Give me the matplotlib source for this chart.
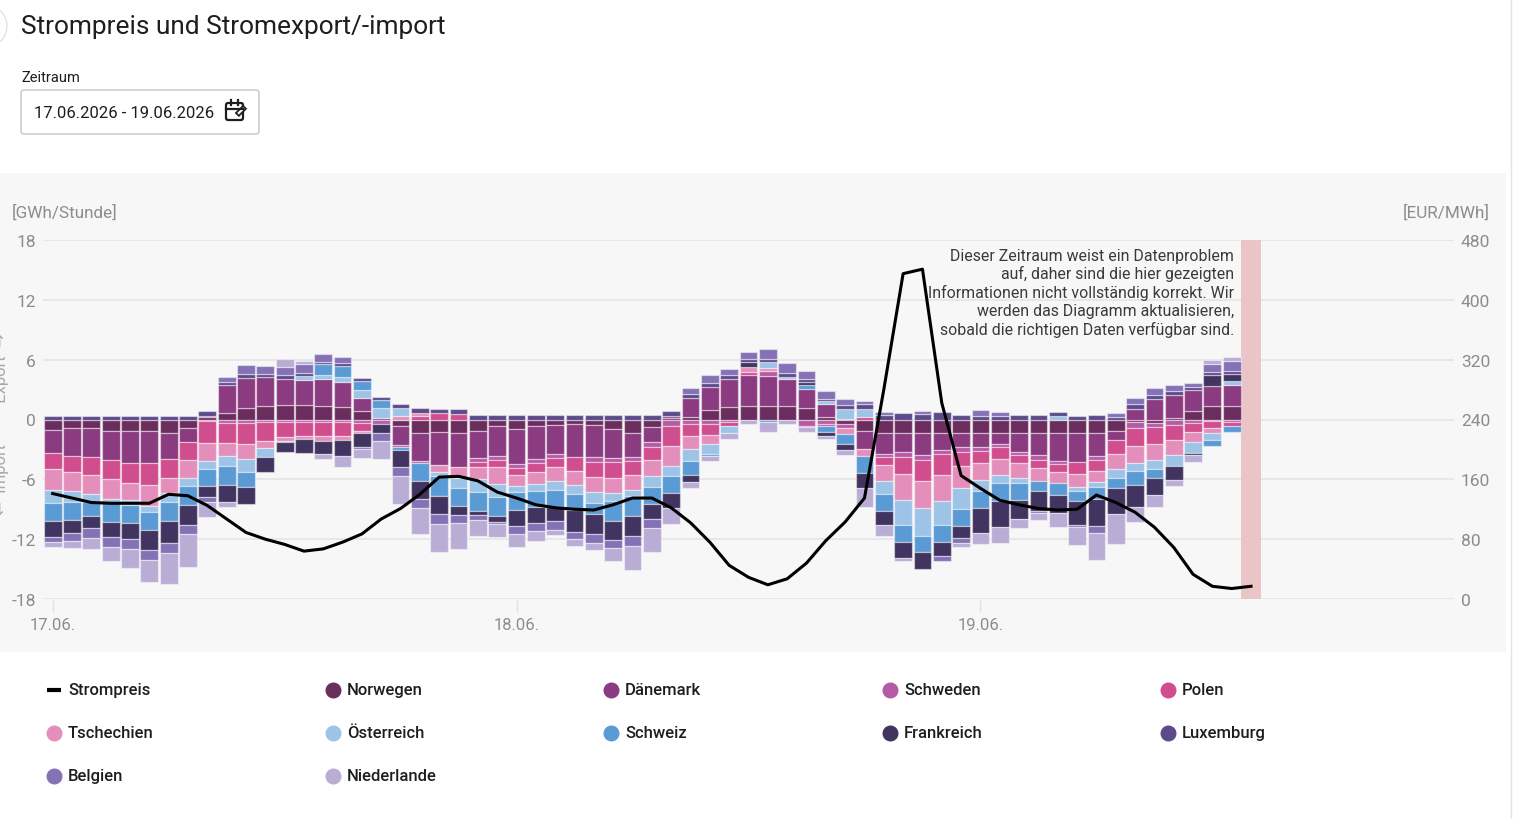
import numpy as np
import matplotlib
matplotlib.use("Agg")
import matplotlib.pyplot as plt
from matplotlib.patches import FancyBboxPatch, Rectangle, Circle

plt.rcParams['font.family'] = ['Roboto', 'DejaVu Sans']
plt.rcParams['axes.unicode_minus'] = False

# hourly values 17.06. 00:00 ... 19.06. 13:00, GWh per hour (+ export / - import)
norwegen = [-1.07, -0.87, -0.87, -1.2, -1.2, -1.2, -1.4, -0.87, 0.3, 0.7, 1.2, 1.37, 1.44, 1.44, 1.37, 1.27,
            0.87, 0, -0.7, -1.4, -1.3, -1.4, -1.14, -0.7, -0.97, -0.63, -0.57, -0.47, -0.57, -0.97, -1.4, -0.8,
            0.2, 0.3, 0.94, 1.3, 1.37, 1.37, 1.37, 1.2, 0.3, -0.47, -1.14, -1.4, -1.4, -1.4, -1.4, -1.4,
            -1.4, -1.4, -1.4, -1.4, -1.4, -1.4, -1.4, -1.2, -0.3, -0.37, 0.2, 0.87, 1.37, 1.37]
daenemark = [-2.3, -2.84, -2.94, -2.9, -3.2, -3.2, -2.57, -1.34, 0.1, 2.74, 3.0, 2.9, 2.67, 2.54, 2.67, 2.5,
             1.24, 0.12, -1.87, -2.8, -3.27, -3.34, -2.77, -2.94, -3.5, -3.34, -2.9, -3.34, -3.24, -2.9, -2.4, -1.44,
             0.2, 1.9, 2.27, 2.74, 3.1, 3.0, 2.67, 1.9, 1.24, 0, -1.84, -2.07, -1.9, -2.17, -1.67, -1.4,
             -1.34, -1.07, -1.84, -2.17, -2.8, -2.9, -2.24, -0.87, 1.1, 2.07, 2.27, 2.1, 2.0, 2.07]
schweden = [0, 0, 0, 0, 0, 0, 0, 0, -0.2, -0.37, -0.37, -0.23, -0.3, -0.3, -0.3, -0.3,
            -0.4, -0.5, -0.23, -0.15, 0, 0, -0.4, -0.43, -0.43, -0.43, -0.43, 0, -0.43, -0.43, -0.33, -0.47,
            -0.7, -0.47, -0.47, -0.23, 0, 0.5, 0, -0.7, -0.47, -0.43, 0, -0.33, -0.43, -0.47, -0.4, -0.5,
            -0.4, -0.33, -0.33, -0.47, -0.27, 0, -0.43, 0, -0.6, -0.43, -0.53, -0.4, -0.13, -0.3]
polen = [-1.6, -1.6, -1.77, -1.87, -1.97, -2.17, -1.94, -1.87, -2.2, -1.94, -2.1, -1.9, -1.5, -1.4, -1.34, -1.4,
         -0.74, 0, 0, 0.37, 0.63, 0.53, -0.43, -0.67, -0.63, -0.84, -0.9, -1.34, -1.57, -1.6, -1.44, -1.34,
         -2.0, -1.17, -1.1, -0.47, 0.33, 0, 0, -0.1, -0.23, 0.1, 0.3, -0.77, -1.74, -2.17, -2.1, -1.34,
         -1.24, -1.17, -0.8, -0.84, -0.84, -1.17, -1.07, -1.4, -1.77, -1.67, -1.54, -0.9, -0.77, -0.4]
tschechien = [-2.07, -1.9, -1.9, -2.0, -1.7, -2.07, -1.47, -1.74, -1.8, -1.34, -1.5, -0.77, -0.33, -0.27, -0.5, -0.37,
              -0.23, 0, 0.33, 0.27, -0.67, -1.17, -1.24, -1.74, -1.1, -1.24, -1.4, -1.44, -1.5, -1.47, -1.47, -1.6,
              -1.94, -1.34, -0.9, 0, 0.5, 0.33, 0, 0, 0, -0.57, -0.67, -1.64, -2.57, -2.7, -2.64, -2.24,
              -1.67, -1.6, -1.54, -1.27, -1.07, -1.34, -1.17, -1.5, -1.67, -1.57, -1.44, -0.94, -0.5, 0]
oesterreich = [-1.34, -1.1, -0.84, -0.33, -0.47, -0.6, -0.94, -0.84, -0.77, -1.0, -1.27, -0.9, -0.17, 0.4, 0.4, 0.53,
               0.87, 1.0, 0.87, 0, -0.4, -0.97, -1.34, -1.34, -0.67, -0.67, -0.84, -0.9, -1.07, -0.8, -0.6, -1.1,
               -1.07, -1.17, -1.0, -0.7, 0, 0.57, 0.27, 0, 0.33, 1.0, 0.8, -1.27, -2.5, -2.74, -2.34, -2.1,
               -1.1, -0.84, -0.5, 0, 0.37, -0.33, -0.43, -0.9, -0.84, -0.94, -1.2, -1.07, -0.67, 0.43]
schweiz = [-1.77, -1.74, -1.34, -1.94, -1.8, -1.8, -1.84, -1.9, -1.74, -1.9, -1.57, 0, 0, 0, 1.1, 1.07,
           0.84, 0.87, -0.23, -1.77, -2.0, -1.77, -1.84, -1.84, -1.74, -1.67, -1.77, -1.6, -1.1, -1.97, -2.0, -1.74,
           -1.67, -1.44, -0.17, 0, 0, -0.3, 0, 0.37, -0.6, -1.0, -1.74, -1.67, -1.7, -1.67, -1.77, -1.67,
           -1.77, -1.74, -1.64, -1.07, -1.17, -1.07, -1.24, -1.04, -1.4, -0.84, 0, 0, -0.57, -0.6]
frankreich = [-1.67, -1.34, -1.24, -1.57, -1.64, -2.07, -2.27, -2.04, -1.1, -1.7, -1.7, -1.5, -0.94, -1.4, -1.34, -1.57,
              -1.34, -0.9, -1.77, -1.84, -1.84, -0.94, -0.43, -0.6, -1.6, -1.6, -1.34, -2.17, -2.0, -1.94, -2.07, -1.44,
              -1.54, -0.67, 0, 0, 0.47, 0, 0, 0.3, -0.33, -0.6, -1.5, -1.44, -1.64, -1.67, -1.34, -1.24,
              -2.47, -2.67, -1.94, -1.94, -1.84, -2.34, -2.74, -2.57, -2.24, -1.74, -1.37, -0.23, 1.1, 0.74]
luxemburg = [0.37, 0.37, 0.37, 0.37, 0.37, 0.37, 0.37, 0.37, 0.43, 0.33, 0.33, 0.33, 0.33, 0.33, 0.23, 0.27,
             0.3, 0.3, 0.4, 0.47, 0.47, 0.5, 0.5, 0.43, 0.43, 0.43, 0.43, 0.43, 0.43, 0.43, 0.43, 0.43,
             0.43, 0.33, 0.43, 0.4, 0.33, 0.33, 0.4, 0.33, 0.23, 0.33, 0.43, 0.43, 0.7, 0.53, 0.76, 0.43,
             0.37, 0.37, 0.43, 0.43, 0.4, 0.37, 0.43, 0.3, 0.5, 0.43, 0.4, 0.3, 0.33, 0.27]
belgien = [-0.47, -0.8, -0.94, -0.94, -1.0, -0.94, -1.0, -0.9, -0.5, 0.53, 0.9, 0.77, 0.84, 0.84, 0.77, 0.67,
           -0.2, -0.77, -0.84, -0.9, -1.0, -0.8, -0.47, -0.23, -0.84, -0.74, -0.9, -0.74, -0.9, -0.8, -0.94, -1.0,
           0, 0.6, 0.8, 0.67, 0.67, 1.0, 0.94, 0.74, 0.77, 0.67, 0.37, 0.33, 0, 0.3, -0.5, -0.5,
           0.6, 0.4, 0, -0.23, 0, -0.2, -0.7, 0.33, 0.53, 0.67, 0.6, 0.43, 0.74, 0.94]
niederlande = [-0.47, -0.74, -1.17, -1.47, -1.9, -2.27, -3.07, -3.28, -1.5, -0.5, 0, 0, 0.77, 0.27, -0.5, -1.17,
               -1.0, -1.84, -2.84, -2.6, -2.84, -2.6, -1.67, -1.34, -1.34, -1.0, -0.53, -0.67, -0.67, -1.34, -2.4, -2.34,
               -1.57, -0.57, -0.57, -0.57, -0.47, -1.0, -0.47, -0.5, -0.33, -0.47, -1.87, -1.07, -0.27, 0, 0, -0.43,
               -1.1, -1.57, -0.9, -0.7, -1.37, -1.8, -2.67, -3.0, -1.5, -1.17, -0.57, -0.77, 0.43, 0.4]

# EUR/MWh, one value per hour up to 19.06. 14:00
strompreis = [141, 135, 129, 128, 128, 128, 140, 138, 125, 107, 89, 80, 73, 64, 67, 76,
              87, 107, 121, 140, 163, 164, 158, 143, 135, 126, 122, 120, 119, 126, 135, 135,
              122, 102, 76, 45, 29, 19, 27, 48, 78, 103, 135, 280, 435, 441, 262, 165,
              148, 132, 126, 121, 119, 120, 139, 129, 116, 96, 69, 33, 17, 14, 17]

laender = ["Norwegen", "Dänemark", "Schweden", "Polen", "Tschechien", "Österreich",
           "Schweiz", "Frankreich", "Luxemburg", "Belgien", "Niederlande"]
werte = [norwegen, daenemark, schweden, polen, tschechien, oesterreich,
         schweiz, frankreich, luxemburg, belgien, niederlande]
farben = ["#6b2d5e", "#8b3b80", "#b55ba6", "#d04d8e", "#e48fbb", "#9dc3e6",
          "#5b9bd5", "#413460", "#5d4a8b", "#8571b5", "#b9add6"]

day_ticks = [0, 24, 48]
day_labels = ["17.06.", "18.06.", "19.06."]
grau = "#8c8c8c"

W, H = 1517, 820
fig = plt.figure(figsize=(W / 100, H / 100), dpi=100)

# page / ui layer in pixel coordinates
ui = fig.add_axes([0, 0, 1, 1], zorder=0)
ui.set_xlim(0, W)
ui.set_ylim(H, 0)
ui.axis("off")
ui.add_patch(Rectangle((0, 174), 1506, 479, color="#f7f7f7", lw=0))
ui.plot([1511, 1511], [0, H], color="#e4e4e4", lw=1)
ui.add_patch(Circle((-14, 27), 21, fill=False, ec="#e3e3e3", lw=1))

ui.text(21, 27, "Strompreis und Stromexport/-import", fontsize=18.9, color="#1e1e1e", va="center")
ui.text(21, 78, "Zeitraum", fontsize=10.5, color="#1e1e1e", va="center")
ui.add_patch(FancyBboxPatch((21, 91), 238, 44, boxstyle="round,pad=0,rounding_size=3",
                            fc="white", ec="#c4c4c4", lw=1))
ui.text(34, 113, "17.06.2026 - 19.06.2026", fontsize=12, color="#1e1e1e", va="center")
# calendar icon
ui.add_patch(FancyBboxPatch((226, 104), 17, 17, boxstyle="round,pad=0,rounding_size=2",
                            fc="none", ec="#1e1e1e", lw=1.6))
ui.plot([226, 243], [109.5, 109.5], color="#1e1e1e", lw=1.6)
ui.plot([231, 231], [101, 106], color="#1e1e1e", lw=1.6)
ui.plot([238, 238], [101, 106], color="#1e1e1e", lw=1.6)
ui.add_patch(Rectangle((236, 114), 10, 4, angle=-45, fc="white", ec="#1e1e1e", lw=1.3))

ui.text(12, 213, "[GWh/Stunde]", fontsize=12.3, color=grau, va="center")
ui.text(1490, 213, "[EUR/MWh]", fontsize=12.3, color=grau, va="center", ha="right")
ui.text(2, 424, "←  Import          Export  →", rotation=90, fontsize=12, color="#a8a8a8",
        va="center", ha="center")

hinweis = ["Dieser Zeitraum weist ein Datenproblem",
           "auf, daher sind die hier gezeigten",
           "Informationen nicht vollständig korrekt. Wir",
           "werden das Diagramm aktualisieren,",
           "sobald die richtigen Daten verfügbar sind."]

# chart
ax = fig.add_axes([43 / W, 1 - 600 / H, 1411 / W, 359 / H], zorder=1)
ax.patch.set_alpha(0)
x = np.arange(len(norwegen))
pos_base = np.zeros(len(x))
neg_base = np.zeros(len(x))
for name, vals, col in zip(laender, werte, farben):
    v = np.array(vals, dtype=float)
    p = v > 0
    n = v < 0
    ax.bar(x[p], v[p], bottom=pos_base[p], width=0.92, color=col,
           edgecolor=(1, 1, 1, 0.45), linewidth=0.9, zorder=2)
    ax.bar(x[n], v[n], bottom=neg_base[n], width=0.92, color=col,
           edgecolor=(1, 1, 1, 0.45), linewidth=0.9, zorder=2)
    pos_base[p] += v[p]
    neg_base[n] += v[n]

ax.axvspan(61.5, 62.5, color="#ebc4c8", lw=0, zorder=1)
ax.set_xlim(-0.5, 72.5)
ax.set_ylim(-18, 18)
ax.set_yticks([-18, -12, -6, 0, 6, 12, 18])
ax.grid(axis="y", color="#e6e6e6", lw=1.3, zorder=0)
ax.set_axisbelow(True)
for s in ax.spines.values():
    s.set_visible(False)
ax.tick_params(axis="y", length=0, pad=5, labelsize=12.5, labelcolor=grau)
ax.set_xticks(day_ticks)
ax.set_xticklabels(day_labels)
ax.tick_params(axis="x", length=9, width=1, color="#e2e2e2", pad=4, labelsize=12, labelcolor=grau)

ax2 = ax.twinx()
ax2.set_ylim(0, 480)
ax2.set_yticks(range(0, 481, 80))
ax2.plot(np.arange(len(strompreis)), strompreis, color="black", lw=2.2, zorder=5)
for s in ax2.spines.values():
    s.set_visible(False)
ax2.tick_params(axis="y", length=0, pad=5, labelsize=12.5, labelcolor=grau)

# note and legend on top of the chart
note = fig.add_axes([0, 0, 1, 1], zorder=3)
note.set_xlim(0, W)
note.set_ylim(H, 0)
note.axis("off")
for i, line in enumerate(hinweis):
    note.text(1234, 256 + 18.4 * i, line, fontsize=11.4, color="#3a3a3a", ha="right", va="center")

leg_items = ["Strompreis"] + laender
leg_cols = ["black"] + farben
col_x = [54, 333, 611, 890, 1168]
row_y = [691, 734, 777]
for i, (name, col) in enumerate(zip(leg_items, leg_cols)):
    cx = col_x[i % 5]
    cy = row_y[i // 5]
    if i == 0:
        note.plot([cx - 7, cx + 7], [cy, cy], color=col, lw=3, solid_capstyle="butt")
    else:
        note.plot([cx], [cy], marker="o", ms=10.5, color=col, mec=col)
    note.text(cx + 14, cy, name, fontsize=12, color="#1e1e1e", va="center", fontweight="medium")

fig.savefig("out.png", dpi=100, facecolor="white")
